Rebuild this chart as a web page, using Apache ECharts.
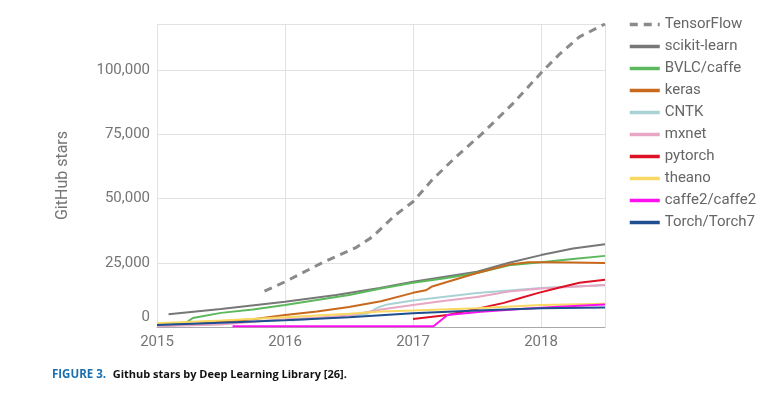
<!DOCTYPE html>
<html>
<head>
<meta charset="utf-8">
<script src="https://cdn.jsdelivr.net/npm/echarts@6/dist/echarts.min.js"></script>
<style>
  html, body { margin: 0; padding: 0; background: #fff; }
  #chart { width: 782px; height: 393px; }
</style>
</head>
<body>
<div id="chart"></div>
<script>
// stars, [year, stars]
const tensorflow = [[2015.84, 14000], [2016.0, 17600], [2016.29, 25000], [2016.55, 30800], [2016.68, 35000], [2016.86, 43500], [2017.0, 48800], [2017.15, 57300], [2017.33, 66000], [2017.54, 75300], [2017.78, 87000], [2018.02, 100000], [2018.15, 106500], [2018.3, 113000], [2018.5, 118000]];
const scikitLearn = [[2015.09, 5000], [2015.5, 7000], [2016.0, 9800], [2016.4, 12500], [2016.74, 15200], [2017.0, 17600], [2017.25, 19600], [2017.5, 21500], [2017.75, 25000], [2018.0, 28000], [2018.25, 30600], [2018.5, 32200]];
const caffe = [[2015.0, 900], [2015.22, 1400], [2015.28, 3500], [2015.5, 5500], [2015.75, 6800], [2016.0, 8600], [2016.25, 10500], [2016.5, 12500], [2016.75, 15000], [2017.0, 17200], [2017.25, 19000], [2017.5, 21000], [2017.75, 24000], [2018.0, 25200], [2018.25, 26500], [2018.5, 27700]];
const keras = [[2015.0, 500], [2015.25, 1000], [2015.5, 2000], [2015.75, 3000], [2016.0, 4700], [2016.25, 6000], [2016.5, 7800], [2016.75, 10000], [2017.0, 13300], [2017.1, 14300], [2017.15, 15800], [2017.33, 18500], [2017.5, 21000], [2017.75, 24300], [2017.9, 25200], [2018.0, 25200], [2018.25, 25100], [2018.5, 24900]];
const cntk = [[2016.05, 2500], [2016.25, 3300], [2016.5, 4300], [2016.65, 5300], [2016.72, 7500], [2016.8, 8800], [2017.0, 10300], [2017.25, 11800], [2017.5, 13200], [2017.75, 14200], [2018.0, 15200], [2018.25, 15800], [2018.5, 16300]];
const mxnet = [[2015.0, 300], [2015.5, 1000], [2015.8, 2200], [2016.0, 3000], [2016.25, 3600], [2016.5, 4500], [2016.75, 6800], [2017.0, 8600], [2017.25, 10200], [2017.5, 11700], [2017.75, 13800], [2018.0, 15000], [2018.25, 15700], [2018.5, 16400]];
const pytorch = [[2017.0, 3100], [2017.27, 4700], [2017.53, 7400], [2017.71, 9400], [2017.84, 11300], [2017.98, 13300], [2018.13, 15200], [2018.3, 17200], [2018.5, 18400]];
const theano = [[2015.0, 1500], [2015.5, 2500], [2016.0, 3800], [2016.5, 5200], [2016.75, 6000], [2017.0, 6400], [2017.5, 7300], [2018.0, 8600], [2018.5, 9100]];
const caffe2 = [[2015.59, 300], [2016.5, 300], [2017.16, 300], [2017.27, 4700], [2017.53, 5900], [2017.84, 7000], [2018.1, 7800], [2018.5, 8800]];
const torch7 = [[2015.0, 800], [2015.5, 1700], [2016.0, 2600], [2016.5, 3800], [2017.0, 5400], [2017.5, 6400], [2018.0, 7300], [2018.5, 7600]];

const yearTicks = [2015, 2016, 2017, 2018];

const chart = echarts.init(document.getElementById("chart"));

function line(name, data, color, extra) {
  return Object.assign({
    name: name,
    type: "line",
    data: data,
    showSymbol: false,
    symbol: "none",
    lineStyle: { color: color, width: 2 },
    itemStyle: { color: color }
  }, extra || {});
}

chart.setOption({
  animation: false,
  textStyle: { fontFamily: "Roboto" },
  grid: { left: 157, right: 177, top: 24, bottom: 66 },
  legend: {
    orient: "vertical",
    left: 628,
    top: 17,
    padding: 0,
    itemWidth: 30,
    itemHeight: 14,
    itemGap: 7,
    itemStyle: { opacity: 0 },
    lineStyle: { width: 3.5 },
    textStyle: { color: "#666", fontSize: 15, fontFamily: "Roboto" }
  },
  xAxis: {
    type: "value",
    min: 2015,
    max: 2018.5,
    interval: 1,
    axisLine: { show: true, lineStyle: { color: "#aaa", width: 1 } },
    axisTick: { show: false },
    axisLabel: {
      color: "#757575",
      fontSize: 15,
      margin: 8,
      formatter: v => yearTicks.indexOf(v) >= 0 ? String(v) : ""
    },
    splitLine: { show: true, lineStyle: { color: "#e2e2e2" } }
  },
  yAxis: {
    type: "value",
    min: 0,
    max: 118000,
    interval: 25000,
    name: "GitHub stars",
    nameLocation: "middle",
    nameGap: 86,
    nameTextStyle: { color: "#757575", fontSize: 16 },
    axisLine: { show: false },
    axisTick: { show: false },
    axisLabel: {
      color: "#757575",
      fontSize: 15,
      margin: 7,
      showMaxLabel: false,
      formatter: v => v === 0 ? "{z|0}" : v.toLocaleString("en-US"),
      rich: { z: { color: "#757575", fontSize: 15, padding: [0, 0, 20, 0] } }
    },
    splitLine: { show: true, lineStyle: { color: "#e2e2e2" } }
  },
  series: [
    line("TensorFlow", tensorflow, "#8a8a8a", { lineStyle: { color: "#8a8a8a", width: 3, type: [8, 6] } }),
    line("scikit-learn", scikitLearn, "#777777"),
    line("BVLC/caffe", caffe, "#5cb85c"),
    line("keras", keras, "#c8691c"),
    line("CNTK", cntk, "#a9d2d5"),
    line("mxnet", mxnet, "#e6a6c4"),
    line("pytorch", pytorch, "#dd1126"),
    line("theano", theano, "#f8d860"),
    line("caffe2/caffe2", caffe2, "#ff10f0"),
    line("Torch/Torch7", torch7, "#1f4f8f")
  ],
  graphic: [{
    type: "text",
    left: 52,
    top: 369,
    style: {
      text: "{a|FIGURE 3.}  {b|Github stars by Deep Learning Library [26].}",
      rich: {
        a: { fill: "#1b6fae", fontSize: 11.5, fontWeight: "bold", fontFamily: "Open Sans" },
        b: { fill: "#111", fontSize: 11, fontWeight: "bold", fontFamily: "Open Sans" }
      }
    }
  }]
});
</script>
</body>
</html>
